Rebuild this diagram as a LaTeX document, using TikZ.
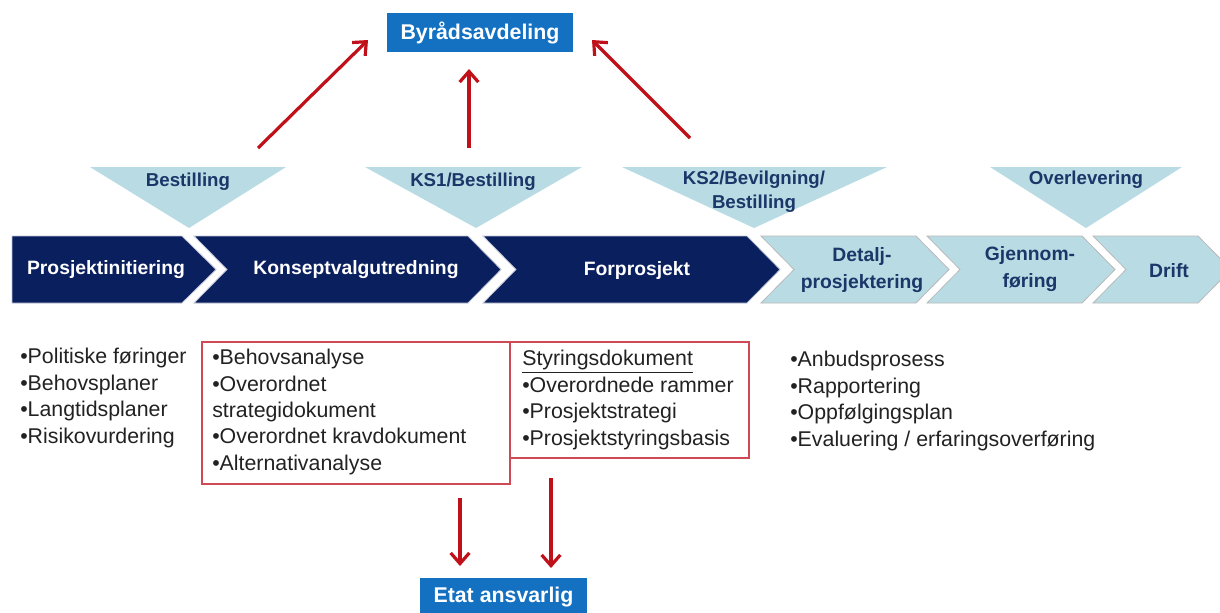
\documentclass[tikz,border=0pt]{standalone}
\usepackage{fontspec}
\setmainfont{Liberation Sans}
\usetikzlibrary{arrows.meta}
\definecolor{navy}{HTML}{0A1F5E}
\definecolor{lteal}{HTML}{B9DCE4}
\definecolor{tnavy}{HTML}{1B3668}
\definecolor{myblue}{HTML}{1471C2}
\definecolor{myred}{HTML}{C0101A}
\definecolor{boxred}{HTML}{D04A55}
\definecolor{txtgray}{HTML}{222222}
\begin{document}
\begin{tikzpicture}[x=0.75pt,y=-0.75pt,
  chev/.style={fill=navy, draw=white!75!navy, line width=0.6pt},
  lchev/.style={fill=lteal, draw=gray!55, line width=0.6pt},
  tri/.style={fill=lteal},
  darklbl/.style={text=white, font=\bfseries\fontsize{14.5}{17}\selectfont, inner sep=0},
  lightlbl/.style={text=tnavy, font=\bfseries\fontsize{14.5}{20}\selectfont, inner sep=0, align=center},
  trilbl/.style={text=tnavy, font=\bfseries\fontsize{14}{18}\selectfont, inner sep=0, align=center},
  bluebox/.style={fill=myblue, text=white, font=\bfseries\fontsize{16}{19}\selectfont, inner sep=0},
  redarrow/.style={draw=myred, line width=2.4pt, -{Straight Barb[length=8pt,width=14pt]}},
  listtxt/.style={align=left, anchor=west, inner sep=0, text=txtgray, font=\fontsize{16}{19.8}\selectfont},
  redbox/.style={draw=boxred, line width=0.9pt, inner sep=0}
]
\useasboundingbox[fill=white] (0,0) rectangle (1220,612);

% top and bottom boxes
\node[bluebox, minimum width=139.5pt, minimum height=29.25pt] (byr) at (480,32.5) {Byrådsavdeling};
\node[bluebox, minimum width=125.25pt, minimum height=28.5pt] (etat) at (503.5,597) {Etat ansvarlig};

% triangles
\fill[tri] (90,167) -- (286,167) -- (189,228) -- cycle;
\fill[tri] (365,167) -- (582,167) -- (476,228) -- cycle;
\fill[tri] (622,167) -- (887,167) -- (754,228) -- cycle;
\fill[tri] (990,167) -- (1182,167) -- (1086,228) -- cycle;
\node[trilbl] (t1) at (188,182) {Bestilling};
\node[trilbl] (t2) at (473,182) {KS1/Bestilling};
\node[trilbl] (t3) at (754,192) {KS2/Bevilgning/\\Bestilling};
\node[trilbl] (t4) at (1086,180) {Overlevering};

% chevrons
\draw[chev] (12,236) -- (182,236) -- (216,269.5) -- (182,303) -- (12,303) -- cycle;
\draw[chev] (194,236) -- (468,236) -- (501,269.5) -- (468,303) -- (194,303) -- (227,269.5) -- cycle;
\draw[chev] (483,236) -- (747,236) -- (780,269.5) -- (747,303) -- (483,303) -- (516,269.5) -- cycle;
\draw[lchev] (761,236) -- (916,236) -- (949,269.5) -- (916,303) -- (761,303) -- (794,269.5) -- cycle;
\draw[lchev] (927,236) -- (1082,236) -- (1115,269.5) -- (1082,303) -- (927,303) -- (960,269.5) -- cycle;
\draw[lchev] (1093,236) -- (1198,236) -- (1231,269.5) -- (1198,303) -- (1093,303) -- (1126,269.5) -- cycle;
\node[darklbl] (c1) at (106,270) {Prosjektinitiering};
\node[darklbl] (c2) at (356,270) {Konseptvalgutredning};
\node[darklbl] (c3) at (637,270) {Forprosjekt};
\node[lightlbl] (c4) at (862,270) {Detalj-\\prosjektering};
\node[lightlbl] (c5) at (1030,269) {Gjennom-\\føring};
\node[lightlbl] (c6) at (1169,271) {Drift};

% red boxes
\node[redbox, minimum width=231pt, minimum height=106.5pt] (box1) at (356,413) {};
\node[redbox, minimum width=179.25pt, minimum height=87pt] (box2) at (629.5,400) {};

% lists
\node[listtxt] (l1) at (20,398) {•Politiske føringer\\•Behovsplaner\\•Langtidsplaner\\•Risikovurdering};
\node[listtxt] (l2) at (212,412) {•Behovsanalyse\\•Overordnet\\strategidokument\\•Overordnet kravdokument\\•Alternativanalyse};
\node[listtxt] (l3) at (522,400) {\underline{Styringsdokument}\\•Overordnede rammer\\•Prosjektstrategi\\•Prosjektstyringsbasis};
\node[listtxt] (l4) at (790,401) {•Anbudsprosess\\•Rapportering\\•Oppfølgingsplan\\•Evaluering / erfaringsoverføring};

% arrow end points
\coordinate (u1s) at (258,148); \coordinate (u1e) at (368,40);
\coordinate (u2s) at (469,148); \coordinate (u2e) at (469,69);
\coordinate (u3s) at (690,138); \coordinate (u3e) at (592,40);
\coordinate (d1s) at (460,498); \coordinate (d1e) at (460,566);
\coordinate (d2s) at (551,478); \coordinate (d2e) at (551,568);

\draw[redarrow] (u1s) -- (u1e);
\draw[redarrow] (u2s) -- (u2e);
\draw[redarrow] (u3s) -- (u3e);
\draw[redarrow] (d1s) -- (d1e);
\draw[redarrow] (d2s) -- (d2e);
\end{tikzpicture}
\end{document}
